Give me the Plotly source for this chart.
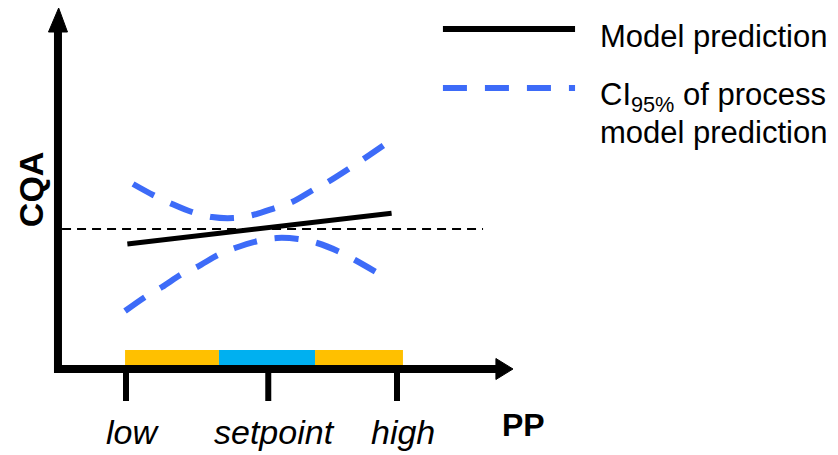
import plotly.graph_objects as go

# ---------------- data (schematic units) ----------------
PP_LEVELS = ["low", "setpoint", "high"]
PP_TICKS = [-1.0, 0.05, 1.0]

REFERENCE_CQA = 0.0

MODEL_X = [-0.99, 0.96]
MODEL_Y = [-0.15, 0.157]

CI_UP_X = [-0.948, -0.80, -0.675, -0.513, -0.365, -0.21, -0.063, 0.10, 0.225, 0.38, 0.49, 0.653, 0.764, 0.904]
CI_UP_Y = [0.45, 0.34, 0.26, 0.17, 0.12, 0.11, 0.14, 0.21, 0.27, 0.39, 0.47, 0.61, 0.71, 0.84]

CI_LO_X = [-1.007, -0.86, -0.734, -0.587, -0.476, -0.321, -0.196, -0.026, 0.114, 0.27, 0.41, 0.579, 0.69, 0.845]
CI_LO_Y = [-0.82, -0.68, -0.58, -0.45, -0.38, -0.26, -0.19, -0.12, -0.09, -0.10, -0.14, -0.23, -0.31, -0.43]

BAND_START = [-1.007, -0.314, 0.395]
BAND_END = [-0.314, 0.395, 1.044]
BAND_COLORS = ["#FFC000", "#00B0F0", "#FFC000"]

LEGEND_LABELS = ["Model prediction", "CI<sub>95%</sub> of process", "model prediction"]

# ---------------- layout constants ----------------
W, H = 838, 455
X0_PX, SX = 261.5, 135.5      # px = X0_PX + SX * x
Y0_PX, SY = 229.0, 100.0      # py = Y0_PX - SY * y
XR = [-X0_PX / SX, (W - X0_PX) / SX]
YR = [(Y0_PX - H) / SY, Y0_PX / SY]

BLUE = "#3D6BF8"
FONT = "Arial, Liberation Sans, sans-serif"

AX_X = -1.502      # vertical axis position
AX_Y = -1.40       # horizontal axis position
Y_TOP_BASE, Y_TIP = 1.97, 2.21
X_END_BASE, X_TIP = 1.73, 1.856

fig = go.Figure()

# coloured PP range bands
for s, e, c in zip(BAND_START, BAND_END, BAND_COLORS):
    fig.add_trace(go.Bar(orientation="h", y=[-1.285], x=[e - s], base=[s], width=0.15,
                         marker=dict(color=c, line=dict(width=0)), showlegend=False,
                         hoverinfo="skip"))

# reference (target) line
fig.add_trace(go.Scatter(x=[-1.472, 1.635], y=[REFERENCE_CQA, REFERENCE_CQA], mode="lines",
                         line=dict(color="black", width=2, dash="9px,6px"),
                         showlegend=False, hoverinfo="skip"))

# CI curves
for xs, ys in [(CI_UP_X, CI_UP_Y), (CI_LO_X, CI_LO_Y)]:
    fig.add_trace(go.Scatter(x=xs, y=ys, mode="lines",
                             line=dict(color=BLUE, width=6, dash="24px,18px", shape="spline"),
                             showlegend=False, hoverinfo="skip"))

# model prediction
fig.add_trace(go.Scatter(x=MODEL_X, y=MODEL_Y, mode="lines",
                         line=dict(color="black", width=5),
                         showlegend=False, hoverinfo="skip"))

# legend samples
LEG_X = [1.339, 2.314]
fig.add_trace(go.Scatter(x=LEG_X, y=[2.0, 2.0], mode="lines",
                         line=dict(color="black", width=6), showlegend=False, hoverinfo="skip"))
fig.add_trace(go.Scatter(x=LEG_X, y=[1.41, 1.41], mode="lines",
                         line=dict(color=BLUE, width=6, dash="24px,18px"),
                         showlegend=False, hoverinfo="skip"))

shapes = []
# axes lines
shapes.append(dict(type="line", x0=AX_X, x1=AX_X, y0=-1.44, y1=Y_TOP_BASE + 0.02,
                   line=dict(color="black", width=8)))
shapes.append(dict(type="line", x0=-1.53, x1=X_END_BASE + 0.02, y0=AX_Y, y1=AX_Y,
                   line=dict(color="black", width=8)))
# arrow heads
hw = 9.5 / SX
shapes.append(dict(type="path",
                   path=f"M {AX_X - hw},{Y_TOP_BASE} L {AX_X + 0.005},{Y_TIP} L {AX_X + hw},{Y_TOP_BASE} Z",
                   fillcolor="black", line=dict(color="black", width=1)))
hh = 10.5 / SY
shapes.append(dict(type="path",
                   path=f"M {X_END_BASE},{AX_Y - hh} L {X_TIP},{AX_Y} L {X_END_BASE},{AX_Y + hh} Z",
                   fillcolor="black", line=dict(color="black", width=1)))
# ticks
for t in PP_TICKS:
    shapes.append(dict(type="line", x0=t, x1=t, y0=-1.44, y1=-1.72,
                       line=dict(color="black", width=6)))

annotations = []
for t, lab in zip(PP_TICKS, PP_LEVELS):
    annotations.append(dict(x=t, y=-2.03, text=f"<i>{lab}</i>", showarrow=False,
                            xanchor="center", yanchor="middle", xshift=6,
                            font=dict(family=FONT, size=34, color="black")))
annotations.append(dict(x=1.93, y=-1.96, text="<b>PP</b>", showarrow=False,
                        xanchor="center", yanchor="middle",
                        font=dict(family=FONT, size=32, color="black")))
annotations.append(dict(x=-1.70, y=0.40, text="<b>CQA</b>", showarrow=False, textangle=-90,
                        xanchor="center", yanchor="middle",
                        font=dict(family=FONT, size=34, color="black")))
# legend texts
LEG_TX = 2.48
for lab, yy in zip(LEGEND_LABELS, [1.93, 1.32, 0.97]):
    annotations.append(dict(x=LEG_TX, y=yy, text=lab, showarrow=False,
                            xanchor="left", yanchor="middle",
                            font=dict(family=FONT, size=31, color="black")))

fig.update_layout(
    width=W, height=H,
    margin=dict(l=0, r=0, t=0, b=0),
    paper_bgcolor="white", plot_bgcolor="white",
    xaxis=dict(range=XR, visible=False, fixedrange=True),
    yaxis=dict(range=YR, visible=False, fixedrange=True),
    shapes=shapes, annotations=annotations,
    barmode="overlay", showlegend=False,
)

fig.write_html("out.html", config={"staticPlot": True},
               post_script="document.body.style.margin='0';document.body.style.overflow='hidden';")
